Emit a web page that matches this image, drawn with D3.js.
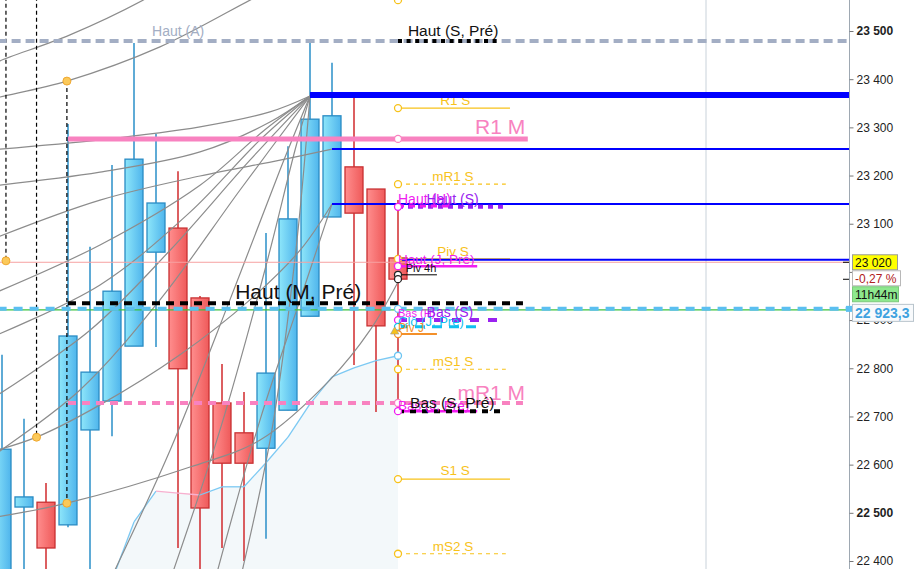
<!DOCTYPE html>
<html><head><meta charset="utf-8">
<script src="https://cdn.jsdelivr.net/npm/d3@7"></script>
<style>
body{margin:0;background:#fff;}
svg{display:block;font-family:"Liberation Sans",Arial,sans-serif;}
</style>
</head><body>
<svg id="c" width="915" height="569"></svg>
<script>
// ---------------- DATA ----------------
const candleOpen  = [22370,22512,22522,22475,22672,22732,22846,23041,23091,22946,22728,22666,22634,22713,22908,23114,23218,23172,23029];
const candleHigh  = [22828,22695,22562,23307,23052,23222,23475,23286,23209,22950,22809,22751,23081,23261,23481,23434,23361,23172,23149];
const candleLow   = [22300,22340,22340,22470,22350,22659,22846,22844,22427,22340,22427,22400,22446,22713,22908,23114,22807,22709,22709];
const candleClose = [22632,22533,22427,22867,22792,22960,23234,23143,22799,22510,22603,22603,22790,23110,23317,23324,23122,22888,22985];

// 23 000 label is hidden behind the price badges in the reference
const tickValues = [23500,23400,23300,23200,23100,23000,22900,22800,22700,22600,22500,22400];
const tickLabels = ["23 500","23 400","23 300","23 200","23 100","","22 900","22 800","22 700","22 600","22 500","22 400"];

// light blue trailing line (candle index, value)
const trailIndex  = [5,6,7,8,9,10,11,12,13,14,15,16,17,18];
const trailValues = [22360,22481,22545,22541,22537,22554,22554,22604,22657,22726,22782,22801,22816,22826];

// level lines
const levelNames  = ["Haut (A)","Haut (S, Pré)","R1 S","Bleu 1","R1 M","Bleu 2","mR1 S","Bleu 3","Haut (S)","Piv S","Bleu 4","Prix","Haut (J, Pré)","Piv 4h","Haut (M, Pré)","Vert","Dernier","Bas (S)","Clô (J, Pré)","Piv J","mS1 S","mR1 M","Bas (J, Pré)","Bas (S, Pré)","S1 S","mS2 S"];
const levelValues = [23479,23479,23340,23367,23276,23255,23182,23141,23135,23027,23025,23020,23012,22994,22935,22921,22923.3,22900,22886,22871,22798,22728,22711,22711,22570,22415];
const levelFrom   = [-0.2,18,18,14,3,15,18,15,18,18,18,-0.2,18,18,3,-0.2,-0.2,18,18,18,18,3,18,18,18,18];
const levelTo     = [38.5,22.64,23.09,38.5,23.9,38.5,22.9,38.5,22.77,23.09,38.5,38.5,21.6,19.77,23.68,38.5,38.5,22.77,21.6,19.77,22.9,23.68,21.6,22.64,23.09,22.9];

// anchor markers (index, value)
const markerIndex = [0.18,1.57,2.95,2.95];
const markerValues = [23023,22657,23396,22520];

// pivot circles at last candle (value)
const circleValues = [23564,23340,23276,23182,23135,23027,23012,22994,22985,22923.3,22900,22886,22871,22826,22798,22728,22711,22570,22415];
const circleKinds  = ["y","y","p","y","m","y","m","k","k","lb","m","c","o","lb","y","p","m","y","y"];

// gray arcs (candle index, value)
const arcB1 = [[-0.55,23427],[-0.09,23438],[3.09,23492],[6.41,23564],[7.18,23585]];
const arcB2 = [[-0.55,23357],[-0.09,23363],[2.95,23396],[7.18,23467],[11.27,23564],[12.18,23585]];
const arcF1 = [[-0.55,23253],[4.455,23274],[9,23301],[12.18,23332],[14,23365]];
const arcF2 = [[-0.55,23178],[4.455,23207],[9,23249],[12.18,23311],[14,23365]];
const arcC4 = [[-0.55,23066],[4.455,23149],[9,23199],[12.64,23232],[15,23255]];
const arcF3 = [[-0.55,22952],[4.455,23056],[9,23180],[11.95,23295],[14,23365]];
const arcF4 = [[-0.55,22863],[4.455,22973],[8.55,23124],[11.73,23274],[14,23365]];
const arcF5 = [[-0.55,22734],[4,22879],[7.64,23045],[11.27,23232],[14,23365]];
const arcF6 = [[-0.55,22614],[3.545,22755],[7.18,22942],[10.82,23170],[14,23365]];
const arcF7 = [[4.91,22360],[7.64,22630],[10.36,22942],[12.64,23212],[14,23365]];
const arcF8 = [[7.64,22360],[9.91,22672],[11.95,23004],[13.32,23253],[14,23365]];
const arcF9 = [[10.82,22360],[12.27,22672],[13.36,23045],[14,23365]];
const arcC5 = [[9.68,22360],[11.73,22693],[13.55,22942],[14.68,23097],[15,23141]];
const arcL1 = [[-0.55,22626],[1.57,22657],[4.455,22724],[8.09,22828],[11.27,22942],[13.55,23045],[15,23141]];
const arcL2 = [[-0.55,22489],[2.95,22520],[8.55,22595],[11.73,22651],[14.91,22776],[16.73,22879],[18,22979]];
const grayArcs = [arcB1,arcB2,arcF1,arcF2,arcC4,arcF3,arcF4,arcF5,arcF6,arcF7,arcF8,arcF9,arcC5,arcL1,arcL2];

// ---------------- STYLES / LAYOUT ----------------
const W = 915, H = 569, plotR = 849;
const YEL = "#f7c21a", PINK = "#f882c0", MAG = "#f01cf0", PUR = "#9a22f0", BLUE = "#0000ff", CYAN = "#10c0f0";
const levelStyle = {
  "Haut (A)":      {c:"#a3aec4", w:4, d:"9,5"},
  "Haut (S, Pré)": {c:"#000", w:4, d:"4,4.6"},
  "R1 S":          {c:YEL, w:1.3},
  "Bleu 1":        {c:BLUE, w:6},
  "R1 M":          {c:PINK, w:5},
  "Bleu 2":        {c:BLUE, w:2},
  "mR1 S":         {c:YEL, w:1.2, d:"4,4"},
  "Bleu 3":        {c:BLUE, w:2},
  "Haut (S)":      {c:PUR, w:4, d:"5,5"},
  "Piv S":         {c:YEL, w:1.3},
  "Bleu 4":        {c:BLUE, w:2},
  "Prix":          {c:"#f6a2a2", w:1},
  "Haut (J, Pré)": {c:MAG, w:2.5},
  "Piv 4h":        {c:"#000", w:1},
  "Haut (M, Pré)": {c:"#000", w:4, d:"8,6"},
  "Vert":          {c:"#3cc23c", w:1.2},
  "Dernier":       {c:"#5bbff0", w:4, d:"9,7"},
  "Bas (S)":       {c:PUR, w:4, d:"9,9"},
  "Clô (J, Pré)":  {c:CYAN, w:3, d:"10,7"},
  "Piv J":         {c:"#f3902a", w:2},
  "mS1 S":         {c:YEL, w:1.2, d:"4,4"},
  "mR1 M":         {c:PINK, w:4, d:"8,6"},
  "Bas (J, Pré)":  {c:MAG, w:2.5},
  "Bas (S, Pré)":  {c:"#000", w:4, d:"6,6"},
  "S1 S":          {c:YEL, w:1.3},
  "mS2 S":         {c:YEL, w:1.2, d:"4,4"}
};
const circleColor = {y:YEL, p:PINK, m:MAG, k:"#222", lb:"#6cc4f2", c:CYAN, o:"#f3902a"};

// ---------------- SCALES ----------------
const x = d3.scaleLinear().domain([0, 38.5]).range([2, plotR]);
const y = d3.scaleLinear().domain([22400, 23500]).range([561, 31]);
const bodyW = 18;

const svg = d3.select("#c");
const defs = svg.append("defs");
defs.append("clipPath").attr("id","plot").append("rect").attr("x",0).attr("y",0).attr("width",plotR).attr("height",H);
const gb = defs.append("linearGradient").attr("id","gBlue").attr("x1","0").attr("x2","1").attr("y1","0").attr("y2","0");
gb.append("stop").attr("offset","0").attr("stop-color","#8ee6fa");
gb.append("stop").attr("offset","1").attr("stop-color","#4fb5ec");
const gr = defs.append("linearGradient").attr("id","gRed").attr("x1","0").attr("x2","1").attr("y1","0").attr("y2","0");
gr.append("stop").attr("offset","0").attr("stop-color","#ff8e8e");
gr.append("stop").attr("offset","1").attr("stop-color","#ef5a5a");

svg.append("rect").attr("width",W).attr("height",H).attr("fill","#fff");
const plot = svg.append("g").attr("clip-path","url(#plot)");

// trail area
const trail = trailIndex.map((d,i)=>[d, trailValues[i]]);
plot.append("path").datum(trail)
  .attr("d", d3.area().x(d=>x(d[0])).y0(H+20).y1(d=>y(d[1])))
  .attr("fill","#f3f8fa");

// vertical grid line
plot.append("line").attr("x1",x(32)).attr("x2",x(32)).attr("y1",0).attr("y2",H)
  .attr("stroke","#c9d2da").attr("stroke-width",1);

// candles
const candles = candleOpen.map((o,i)=>({i, o, h:candleHigh[i], l:candleLow[i], c:candleClose[i]}));
const cg = plot.append("g").selectAll("g").data(candles).join("g");
cg.append("line")
  .attr("x1",d=>x(d.i)).attr("x2",d=>x(d.i))
  .attr("y1",d=>y(d.h)).attr("y2",d=>y(d.l))
  .attr("stroke",d=>d.c>=d.o?"#2a8fc8":"#d02a2c").attr("stroke-width",1.5);
cg.append("rect")
  .attr("x",d=>x(d.i)-bodyW/2).attr("width",bodyW)
  .attr("y",d=>y(Math.max(d.o,d.c)))
  .attr("height",d=>Math.max(1,Math.abs(y(d.o)-y(d.c))))
  .attr("fill",d=>d.c>=d.o?"url(#gBlue)":"url(#gRed)")
  .attr("stroke",d=>d.c>=d.o?"#2a8cc4":"#c83032").attr("stroke-width",1.3);

// trail line (blue when rising, pink when falling)
for (let k=1;k<trail.length;k++){
  const a=trail[k-1], b=trail[k];
  plot.append("line").attr("x1",x(a[0])).attr("y1",y(a[1])).attr("x2",x(b[0])).attr("y2",y(b[1]))
    .attr("stroke", b[1]<a[1] ? "#f7b0cf" : "#7cc9f3").attr("stroke-width",1.3);
}

// gray arcs
const arcLine = d3.line().x(d=>x(d[0])).y(d=>y(d[1])).curve(d3.curveCatmullRom.alpha(0.5));
plot.append("g").selectAll("path").data(grayArcs).join("path")
  .attr("d",arcLine).attr("fill","none").attr("stroke","#8c8c8c").attr("stroke-width",1.2);

// vertical dashed lines + markers
const vTop = [23600,23600,markerValues[2]];
const vBot = [markerValues[0],markerValues[1],markerValues[3]];
const vIdx = [markerIndex[0],markerIndex[1],markerIndex[2]];
vIdx.forEach((vi,k)=>{
  plot.append("line").attr("x1",x(vi)).attr("x2",x(vi)).attr("y1",y(vTop[k])).attr("y2",y(vBot[k]))
    .attr("stroke","#000").attr("stroke-width",1.2).attr("stroke-dasharray","4,3");
});

// level lines
levelNames.forEach((n,k)=>{
  const s = levelStyle[n];
  plot.append("line")
    .attr("x1",x(levelFrom[k])).attr("x2",x(levelTo[k]))
    .attr("y1",y(levelValues[k])).attr("y2",y(levelValues[k]))
    .attr("stroke",s.c).attr("stroke-width",s.w)
    .attr("stroke-dasharray",s.d||null);
});
// magenta short line under Haut (S)
plot.append("line").attr("x1",x(18)).attr("x2",x(20.3)).attr("y1",y(23137)).attr("y2",y(23137))
  .attr("stroke",MAG).attr("stroke-width",3).attr("stroke-dasharray","6,5");

// orange markers
markerIndex.forEach((mi,k)=>{
  plot.append("circle").attr("cx",x(mi)).attr("cy",y(markerValues[k])).attr("r",4)
    .attr("fill","#fbc95a").attr("stroke","#f0a830").attr("stroke-width",1);
});

// circles at last candle
circleValues.forEach((v,k)=>{
  plot.append("circle").attr("cx",x(18)).attr("cy",y(v)).attr("r",3.5)
    .attr("fill","#fff").attr("stroke",circleColor[circleKinds[k]]).attr("stroke-width",1.3);
});
// small triangle marker
plot.append("path").attr("d",d3.symbol(d3.symbolTriangle,30)()).attr("transform",`translate(${x(17.85)},${y(22876)})`)
  .attr("fill","#f7c21a").attr("stroke","#999").attr("stroke-width",0.6);

// labels
function lab(txt, px, py, size, color, anchor, weight){
  plot.append("text").attr("x",px).attr("y",py).text(txt)
    .attr("font-size",size).attr("fill",color).attr("text-anchor",anchor||"start")
    .attr("font-weight",weight||"normal");
}
lab("Haut (A)", x(6.82), y(23479)-5, 14, "#a3aec4");
lab("Haut (S, Pré)", x(18.45), y(23479)-5, 15.5, "#111");
lab("R1 M", x(21.5), y(23276)-5, 21, PINK);
lab("mR1 S", x(20.5), y(23182)-3, 13.5, YEL, "middle");
lab("Haut (H)", x(18), y(23135)-3, 14, MAG);
lab("Haut (S)", x(19.3), y(23135)-3, 14, PUR);
lab("Piv S", x(20.5), y(23027)-3, 13.5, YEL, "middle");
lab("Haut (J, Pré)", x(18), y(23012)-2, 13.5, MAG);
lab("Piv 4h", x(18.35), y(22994)-3, 11, "#111");
lab("Haut (M, Pré)", x(10.6), y(22935)-4, 21, "#111");
lab("Bas (H)", x(18), y(22900)-3, 11, MAG);
lab("Bas (S)", x(19.3), y(22900)-3, 14, PUR);
lab("Clô (J, Pré)", x(18), y(22886)-1, 13, CYAN);
lab("Piv J", x(18), y(22871)-2, 12, "#f3902a");
lab("mS1 S", x(20.5), y(22798)-3, 13.5, YEL, "middle");
lab("mR1 M", x(20.7), y(22728)-3, 21, PINK);
lab("Bas (J, Pré)", x(18), y(22711)-1, 13.5, MAG);
lab("Bas (S, Pré)", x(18.55), y(22711)-3, 15.5, "#111");
lab("S1 S", x(20.6), y(22570)-4, 13.5, YEL, "middle");
lab("mS2 S", x(20.5), y(22415)-3, 13.5, YEL, "middle");
// R1 S label drawn, then blue thick line redrawn on top
lab("R1 S", x(20.6), y(23340)-3, 13.5, YEL, "middle");
plot.append("line").attr("x1",x(14)).attr("x2",x(38.5)).attr("y1",y(23367)).attr("y2",y(23367))
  .attr("stroke",BLUE).attr("stroke-width",6);

// ---------------- AXIS ----------------
svg.append("line").attr("x1",plotR+0.5).attr("x2",plotR+0.5).attr("y1",0).attr("y2",H).attr("stroke","#9ea8b2");
const ax = svg.append("g").attr("transform",`translate(${plotR+0.5},0)`)
  .call(d3.axisRight(y).tickValues(tickValues).tickFormat((d,i)=>tickLabels[i]).tickSize(4).tickSizeOuter(0).tickPadding(3));
ax.select(".domain").remove();
ax.selectAll(".tick line").attr("stroke","#777");
ax.selectAll(".tick text").attr("font-size",12).attr("fill","#222")
  .attr("font-family","Liberation Sans, Arial, sans-serif")
  .attr("font-weight",d=>(d===23500||d===22500)?"bold":"normal");

// ---------------- BADGES ----------------
function badge(txt, vy, fill, stroke, color, size, weight, w){
  const g = svg.append("g");
  const hgt = size+3;
  g.append("rect").attr("x",plotR+3.5).attr("y",vy-hgt/2).attr("width",w).attr("height",hgt)
    .attr("fill",fill).attr("stroke",stroke).attr("stroke-width",1);
  g.append("text").attr("x",plotR+6).attr("y",vy+size*0.36).text(txt)
    .attr("font-size",size).attr("fill",color).attr("font-weight",weight);
}
svg.append("line").attr("x1",843).attr("x2",plotR).attr("y1",y(23020)).attr("y2",y(23020)).attr("stroke","#000");
svg.append("line").attr("x1",843).attr("x2",plotR).attr("y1",y(23020)+17).attr("y2",y(23020)+17).attr("stroke","#000");
badge("23 020", y(23020), "#ffff00", "#9a9a9a", "#111", 12, "normal", 45);
badge("-0,27 %", y(23020)+16, "#ffffff", "#b8b8b8", "#b02020", 12, "normal", 48);
badge("11h44m", y(23020)+32, "#8ee88e", "#7cc87c", "#111", 12, "normal", 46);
svg.append("rect").attr("x",plotR-3).attr("y",y(22923.3)-3).attr("width",6).attr("height",6).attr("fill","#5bbff0");
badge("22 923,3", y(22923.3)+4, "#f8fafc", "#b8c4cc", "#3ea2e0", 14, "bold", 61);
</script>
</body></html>
